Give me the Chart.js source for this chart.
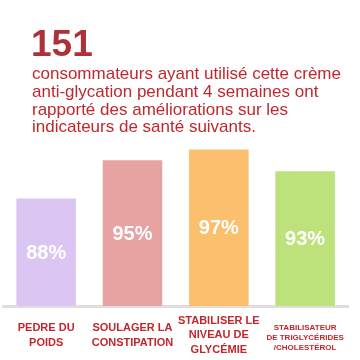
<!DOCTYPE html>
<html>
<head>
<meta charset="utf-8">
<script src="https://cdn.jsdelivr.net/npm/chart.js@4"></script>
<style>
  body { margin: 0; background: #fff; }
  #wrap { position: relative; width: 360px; height: 360px; overflow: hidden; }
  #wrap canvas { position: absolute; left: 0; top: 0; }
  #big { position: absolute; left: 31px; top: 25px; font: bold 37px "Liberation Sans", Arial, sans-serif; line-height: 37px; color: #b0303a; }
  #para { position: absolute; left: 32px; top: 65px; font: 17px "Liberation Sans", Arial, sans-serif; line-height: 17.8px; color: #c0282d; white-space: nowrap; }
</style>
</head>
<body>
<div id="wrap">
  <canvas id="chart" width="360" height="360"></canvas>
  <div id="big">151</div>
  <div id="para">consommateurs ayant utilisé cette crème<br>anti-glycation pendant 4 semaines ont<br>rapporté des améliorations sur les<br>indicateurs de santé suivants.</div>
</div>
<script>
const categories = [
  ["PEDRE DU", "POIDS"],
  ["SOULAGER LA", "CONSTIPATION"],
  ["STABILISER LE", "NIVEAU DE", "GLYCÉMIE"],
  ["STABILISATEUR", "DE TRIGLYCÉRIDES", "/CHOLESTÉROL"]
];
const values = [88, 95, 97, 93];
const barColors = ["#dbc6f3", "#e7a2a2", "#fbbf6d", "#bde27b"];
const labelSizes = [11, 11, 11, 8];

// white percentage in the middle of each bar
const valueLabels = {
  id: "valueLabels",
  afterDatasetsDraw(chart) {
    const ctx = chart.ctx;
    const meta = chart.getDatasetMeta(0);
    const bottom = chart.chartArea.bottom;
    ctx.save();
    ctx.fillStyle = "#ffffff";
    ctx.font = "bold 20px 'Liberation Sans', Arial, sans-serif";
    ctx.textAlign = "center";
    ctx.textBaseline = "middle";
    meta.data.forEach((bar, i) => {
      const mid = (bar.y + Math.min(bar.base, bottom)) / 2;
      ctx.fillText(values[i] + "%", bar.x, mid + 1);
    });
    ctx.restore();
  }
};

new Chart(document.getElementById("chart"), {
  type: "bar",
  data: {
    labels: categories,
    datasets: [{
      data: values,
      backgroundColor: barColors,
      barPercentage: 0.69,
      categoryPercentage: 1
    }]
  },
  options: {
    responsive: false,
    animation: false,
    layout: { padding: { top: 133, left: 3, right: 9, bottom: -19 } },
    plugins: {
      legend: { display: false },
      tooltip: { enabled: false }
    },
    scales: {
      x: {
        grid: { display: false, drawTicks: false },
        border: { display: true, color: "#e2dcdc", width: 3 },
        ticks: {
          color: "#c0282d",
          padding: 15,
          crossAlign: "center",
          maxRotation: 0,
          autoSkip: false,
          font: (c) => ({
            family: "'Liberation Sans', Arial, sans-serif",
            weight: "bold",
            size: labelSizes[c.index] || 11,
            lineHeight: labelSizes[c.index] === 8 ? 1.25 : 1.3
          })
        }
      },
      y: {
        display: false,
        min: 68.3,
        max: 100
      }
    }
  },
  plugins: [valueLabels]
});
</script>
</body>
</html>
